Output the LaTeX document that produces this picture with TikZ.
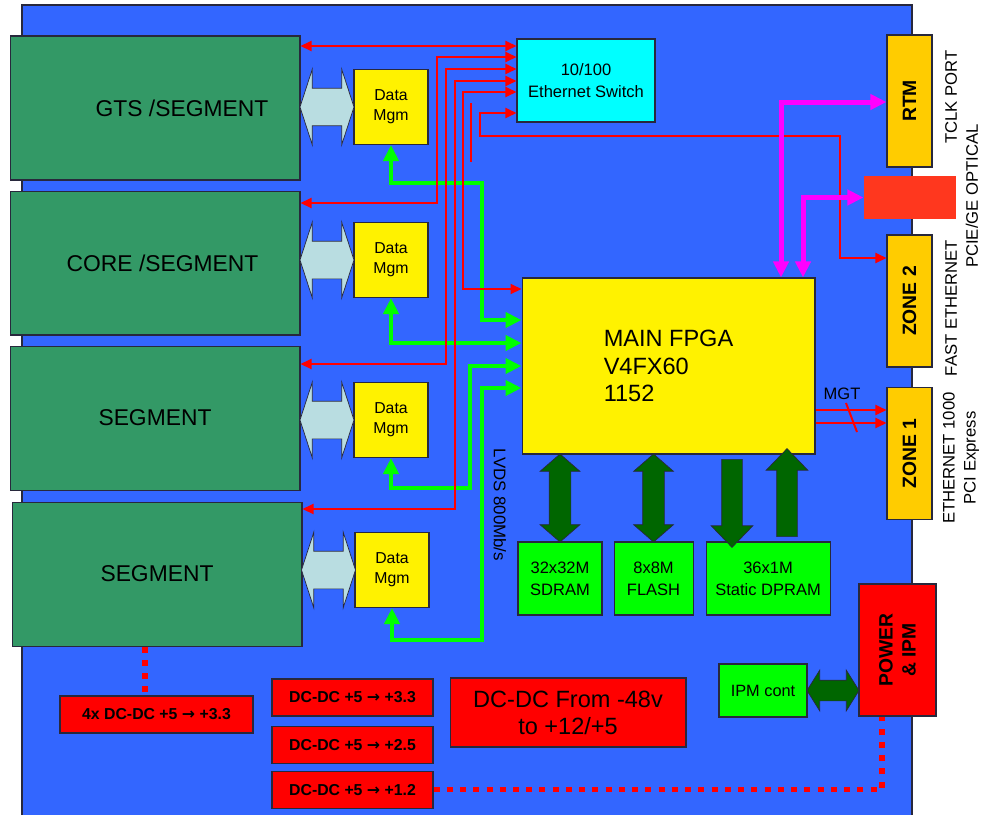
\documentclass[tikz,border=0pt]{standalone}
\usepackage{fontspec}
\setmainfont{Liberation Sans}
\newfontfamily\arrowfont{DejaVu Sans}
\usepackage{tikz}
\usetikzlibrary{shapes.arrows, arrows.meta, positioning, calc}
\definecolor{boardblue}{RGB}{51,102,255}
\definecolor{seggreen}{RGB}{51,153,102}
\definecolor{busgrey}{RGB}{185,221,225}
\definecolor{switchcyan}{RGB}{0,255,255}
\definecolor{zoneorange}{RGB}{255,204,0}
\definecolor{opticred}{RGB}{255,55,30}
\definecolor{memgreen}{RGB}{0,255,0}
\definecolor{darkgreen}{RGB}{0,102,0}
\definecolor{sigred}{RGB}{255,0,0}
\definecolor{clkpink}{RGB}{255,0,255}
\definecolor{edge}{RGB}{40,40,60}
\newcommand{\dcto}{{\arrowfont\bfseries →}}

\begin{document}
\begin{tikzpicture}[
      x=0.02cm, y=-0.02cm,
      box/.style={draw=edge, line width=0.6pt, inner sep=0pt, align=center},
      segbox/.style={box, fill=seggreen, minimum width=5.8cm, minimum height=2.88cm,
                     font=\fontsize{13}{15}\selectfont},
      dmbox/.style={box, fill=yellow, minimum width=1.48cm, minimum height=1.5cm,
                    font=\fontsize{9}{11.3}\selectfont},
      zonebox/.style={box, fill=zoneorange, minimum width=0.9cm, minimum height=2.64cm},
      vlabel/.style={rotate=90, align=center, font=\bfseries\fontsize{11}{13}\selectfont},
      membox/.style={box, fill=memgreen, minimum height=1.46cm,
                     font=\fontsize{9.4}{12.5}\selectfont},
      dcbox/.style={box, fill=red, minimum width=3.22cm, minimum height=0.74cm,
                    font=\bfseries\fontsize{9}{11}\selectfont},
      side/.style={rotate=90, align=center, font=\fontsize{9.5}{12}\selectfont},
      busarrow/.style={double arrow, draw=edge, fill=busgrey, inner xsep=0pt, inner ysep=0.37cm,
                       minimum height=1.08cm,
                       double arrow head extend=0.38cm, double arrow tip angle=144},
      memarrow/.style={double arrow, draw=edge, fill=darkgreen, inner xsep=0pt, inner ysep=0.21cm,
                       rotate=90, minimum height=1.76cm,
                       double arrow head extend=0.18cm, double arrow tip angle=98},
      oneway/.style={single arrow, draw=edge, fill=darkgreen, inner xsep=0pt, inner ysep=0.2cm,
                     minimum height=1.76cm,
                     single arrow head extend=0.21cm, single arrow tip angle=88},
      sig/.style={draw=sigred, line width=0.04cm, >={Triangle[length=0.22cm, width=0.2cm]}},
      lvds/.style={draw=memgreen, line width=0.09cm, >={Triangle[length=0.32cm, width=0.3cm]}},
      clk/.style={draw=clkpink, line width=0.1cm, >={Triangle[length=0.32cm, width=0.3cm]}},
      pwr/.style={draw=sigred, line width=0.11cm, dash pattern=on 0.12cm off 0.145cm},
  ]
    \useasboundingbox (0,0) rectangle (990,815);

    % board
    \fill[boardblue] (22,5) rectangle (912,815);
    \draw[edge, line width=0.6pt] (22,815) |- (912,5) -- (912,815);

    % segments
    \node[segbox] (seg1) at (155,108) {\hspace*{1.08cm}GTS /SEGMENT};
    \node[segbox, below=0.2cm of seg1] (seg2) {\hspace*{0.3cm}CORE /SEGMENT};
    \node[segbox, below=0.2cm of seg2] (seg3) {SEGMENT};
    \node[segbox, below=0.22cm of seg3, xshift=0.04cm] (seg4) {SEGMENT};

    % data management
    \node[dmbox] (dm1) at (391,107) {Data\\Mgm};
    \node[dmbox] (dm2) at (391,260) {Data\\Mgm};
    \node[dmbox] (dm3) at (391,420) {Data\\Mgm};
    \node[dmbox] (dm4) at (392,570) {Data\\Mgm};

    \node[busarrow] (bus1) at ($(seg1.east |- dm1)!0.5!(dm1.west)$) {};
    \node[busarrow] (bus2) at ($(seg2.east |- dm2)!0.5!(dm2.west)$) {};
    \node[busarrow] (bus3) at ($(seg3.east |- dm3)!0.5!(dm3.west)$) {};
    \node[busarrow] (bus4) at ($(seg4.east |- dm4)!0.5!(dm4.west)$) {};

    % switch and fpga
    \node[box, fill=switchcyan, minimum width=2.76cm, minimum height=1.66cm,
          font=\fontsize{9.4}{12.5}\selectfont] (switch) at (586,80.5) {10/100\\Ethernet Switch};
    \node[box, fill=yellow, minimum width=5.86cm, minimum height=3.52cm, align=left,
          font=\fontsize{13.4}{15.6}\selectfont] (fpga) at (668.5,366) {MAIN FPGA\\V4FX60\\1152};

    % backplane side
    \node[zonebox, label={[vlabel]center:RTM}] (rtm) at (909.5,101) {};
    \node[box, draw=none, fill=opticred, minimum width=1.84cm, minimum height=0.86cm] (optic) at (910,197.5) {};
    \node[zonebox, label={[vlabel]center:ZONE 2}] (zone2) at (909.5,301) {};
    \node[zonebox, label={[vlabel]center:ZONE 1}] (zone1) at (909.5,453.5) {};

    \node[side] (tclk) at (951,97) {TCLK PORT};
    \node[side] (optlbl) at (972,196) {PCIE/GE OPTICAL};
    \node[side] (fastlbl) at (951,308) {FAST ETHERNET};
    \node[side] (gbelbl) at (961,458) {ETHERNET 1000\\PCI Express};

    % memories
    \node[membox, minimum width=1.68cm] (sdram) at (560,578.5) {32x32M\\SDRAM};
    \node[membox, minimum width=1.58cm, right=0.22cm of sdram] (flash) {8x8M\\FLASH};
    \node[membox, minimum width=2.48cm, right=0.24cm of flash] (dpram) {36x1M\\Static DPRAM};

    \node[memarrow] (sdbus) at ($(fpga.south -| sdram.north)!0.5!(sdram.north)$) {};
    \node[memarrow] (flbus) at ($(fpga.south -| flash.north)!0.5!(flash.north)$) {};
    \node[oneway, rotate=-90] (dpwr) at (732,498) {};
    \node[oneway, rotate=90] (dprd) at (787,498) {};

    % power
    \node[box, fill=memgreen, minimum width=1.76cm, minimum height=1.06cm,
          font=\fontsize{9.3}{11}\selectfont] (ipm) at (763,690.5) {IPM cont};
    \node[box, fill=red, minimum width=1.54cm, minimum height=2.64cm,
          label={[vlabel]center:POWER\\\& IPM}] (power) at (897.5,650) {};
    \node[double arrow, draw=edge, fill=darkgreen, inner xsep=0pt, inner ysep=0.2cm,
          minimum height=1.04cm,
          double arrow head extend=0.2cm, double arrow tip angle=116]
          (ipmbus) at ($(ipm.east)!0.5!(power.west |- ipm.east)$) {};

    \node[box, fill=red, minimum width=4.72cm, minimum height=1.38cm,
          font=\fontsize{13.4}{15.3}\selectfont] (dcmain) at (568,712.5) {DC-DC From -48v\\to +12/+5};
    \node[dcbox] (dc33) at (352.5,697.5) {DC-DC +5 \dcto{} +3.3};
    \node[dcbox, below=0.18cm of dc33] (dc25) {DC-DC +5 \dcto{} +2.5};
    \node[dcbox, below=0.14cm of dc25] (dc12) {DC-DC +5 \dcto{} +1.2};
    \node[dcbox, minimum width=3.86cm] (dc4x) at (156.5,714.5) {4x DC-DC +5 \dcto{} +3.3};

    \draw[pwr] (seg4.south -| 145,0) -- (dc4x.north -| 145,0);
    \draw[pwr] (dc12.east) -| (power.south -| 882,0);

    % lvds links
    \draw[lvds, <->] (dm1.south) |- (482,183) |- (fpga.west |- 0,320);
    \draw[lvds, <->] (dm2.south) |- (fpga.west |- 0,343);
    \draw[lvds, <->] (dm3.south) |- (470,488) |- (fpga.west |- 0,366);
    \draw[lvds, <->] (dm4.south) |- (482,640) |- (fpga.west |- 0,388);
    \node[rotate=-90, font=\fontsize{9.6}{11}\selectfont] (lvdslbl) at (500,505) {LVDS 800Mb/s};

    % ethernet links
    \coordinate (stubtop) at (471,103);
    \coordinate (stubbot) at (471,162);
    \draw[sig, <->] (seg1.east |- 0,46) -- (switch.west |- 0,46);
    \draw[sig, <->] (switch.west |- 0,57) -| (437,203) -- (seg2.east |- 0,203);
    \draw[sig, <->] (switch.west |- 0,69) -| (446,364) -- (seg3.east |- 0,364);
    \draw[sig, <->] (switch.west |- 0,81) -| (455,509) -- (seg4.east |- 0,509);
    \draw[sig, <->] (switch.west |- 0,92) -| (463,289) -- (fpga.west |- 0,289);
    \draw[sig, <->] (switch.west |- 0,113) -| (480,136) -| (840,258) -- (zone2.west |- 0,258);
    \draw[sig] (stubtop) -- (stubbot);

    % mgt
    \draw[sig, ->] (fpga.east |- 0,410) -- (zone1.west |- 0,410);
    \draw[sig, ->] (fpga.east |- 0,423) -- (zone1.west |- 0,423);
    \draw[sig] (846,403) -- (857,432);
    \node[font=\fontsize{9.4}{11}\selectfont] (mgt) at (842,394) {MGT};

    % clocks
    \draw[clk, <->] (fpga.north -| 781,0) |- (rtm.west |- 0,102);
    \draw[clk, <->] (fpga.north -| 803,0) |- (optic.west);

  \end{tikzpicture}
\end{document}
